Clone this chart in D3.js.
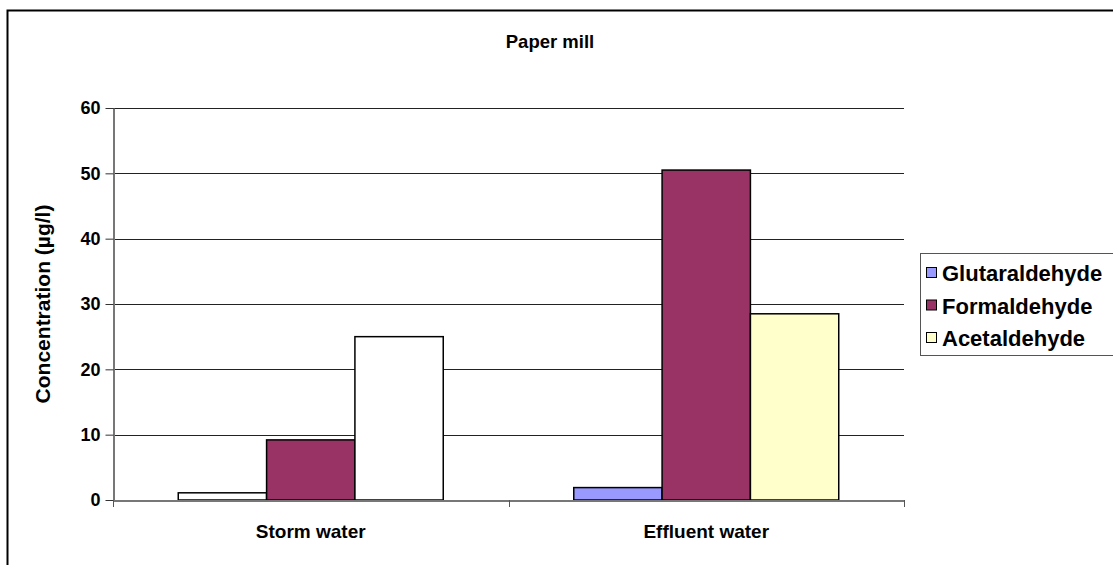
<!DOCTYPE html>
<html>
<head>
<meta charset="utf-8">
<script src="https://cdn.jsdelivr.net/npm/d3@7"></script>
<style>
  html, body { margin: 0; padding: 0; background: #fff; }
  svg { display: block; font-family: "Liberation Sans", Arial, sans-serif; }
</style>
</head>
<body>
<svg id="chart" width="1113" height="565"></svg>
<script>
// Sampling sites and measured aldehydes
const categories = ["Storm water", "Effluent water"];
const seriesNames = ["Glutaraldehyde", "Formaldehyde", "Acetaldehyde"];
const glutaraldehyde = [1.1, 1.9];
const formaldehyde = [9.2, 50.5];
const acetaldehyde = [25.0, 28.5];
const yTicks = [0, 10, 20, 30, 40, 50, 60];

const seriesValues = [glutaraldehyde, formaldehyde, acetaldehyde];
const seriesColors = ["#9999FF", "#993366", "#FFFFCC"];
// Storm water glutaraldehyde and acetaldehyde bars are drawn unfilled
const pointFill = (si, ci) => (ci === 0 && si !== 1) ? "#FFFFFF" : seriesColors[si];

const FONT = "Liberation Sans, Arial, sans-serif";
const svg = d3.select("#chart");
const plot = { left: 113, right: 904, top: 108, bottom: 500 };

// outer chart frame (runs past the right and bottom edges)
svg.append("rect")
  .attr("x", 7.5).attr("y", 10.5)
  .attr("width", 1200).attr("height", 600)
  .attr("fill", "#fff").attr("stroke", "#000").attr("stroke-width", 2);

const x = d3.scaleBand().domain(categories).range([plot.left, plot.right]);
const groupPad = 0.165;
const x1 = d3.scaleBand().domain(seriesNames)
  .range([x.bandwidth() * groupPad, x.bandwidth() * (1 - groupPad)]);
const y = d3.scaleLinear().domain([0, 60]).range([plot.bottom, plot.top]);

// horizontal gridlines
svg.append("g").selectAll("line").data(yTicks.filter(t => t > 0)).join("line")
  .attr("x1", plot.left).attr("x2", plot.right)
  .attr("y1", d => Math.round(y(d)) + 0.5).attr("y2", d => Math.round(y(d)) + 0.5)
  .attr("stroke", "#222").attr("stroke-width", 1);

// bars
const groups = svg.append("g").selectAll("g").data(categories).join("g")
  .attr("transform", c => `translate(${x(c)},0)`);
groups.selectAll("rect")
  .data((c, ci) => seriesNames.map((s, si) => ({ s, si, ci, v: seriesValues[si][ci] })))
  .join("rect")
  .attr("x", d => x1(d.s))
  .attr("width", x1.bandwidth())
  .attr("y", d => y(d.v))
  .attr("height", d => y(0) - y(d.v))
  .attr("fill", d => pointFill(d.si, d.ci))
  .attr("stroke", "#000").attr("stroke-width", 1.5);

// y axis
const yAxis = svg.append("g")
  .attr("transform", `translate(${plot.left + 0.5},0)`)
  .call(d3.axisLeft(y).tickValues(yTicks).tickSize(8).tickSizeOuter(0).tickPadding(5));
yAxis.select(".domain").attr("stroke", "#777").attr("stroke-width", 2);
yAxis.selectAll(".tick line").attr("stroke", "#333");
yAxis.selectAll(".tick text")
  .attr("font-size", 18).attr("font-weight", "bold").attr("fill", "#000")
  .attr("font-family", FONT);

// x axis
const xAxis = svg.append("g")
  .attr("transform", `translate(0,${plot.bottom + 0.5})`)
  .call(d3.axisBottom(x).tickSize(0).tickSizeOuter(0).tickPadding(24));
xAxis.select(".domain").attr("stroke", "#777").attr("stroke-width", 2);
xAxis.selectAll(".tick text")
  .attr("font-size", 19).attr("font-weight", "bold").attr("fill", "#000")
  .attr("font-family", FONT);
// category boundary ticks
svg.append("g").selectAll("line")
  .data([plot.left, (plot.left + plot.right) / 2, plot.right]).join("line")
  .attr("x1", d => Math.round(d) + 0.5).attr("x2", d => Math.round(d) + 0.5)
  .attr("y1", plot.bottom).attr("y2", plot.bottom + 7)
  .attr("stroke", "#555");

// title
svg.append("text")
  .attr("x", 550).attr("y", 48)
  .attr("text-anchor", "middle")
  .attr("font-size", 18.5).attr("font-weight", "bold")
  .text("Paper mill");

// y axis title
svg.append("text")
  .attr("transform", `translate(50,${(plot.top + plot.bottom) / 2}) rotate(-90)`)
  .attr("text-anchor", "middle")
  .attr("font-size", 21).attr("font-weight", "bold")
  .text("Concentration (µg/l)");

// legend
const legend = svg.append("g");
legend.append("rect")
  .attr("x", 920.5).attr("y", 253.5).attr("width", 240).attr("height", 102)
  .attr("fill", "#fff").attr("stroke", "#555").attr("stroke-width", 1);
const items = legend.selectAll("g.item").data(seriesNames).join("g")
  .attr("class", "item")
  .attr("transform", (d, i) => `translate(926,${273 + i * 32.5})`);
items.append("rect")
  .attr("x", 0.5).attr("y", -5.5).attr("width", 10).attr("height", 10)
  .attr("fill", (d, i) => seriesColors[i]).attr("stroke", "#000");
items.append("text")
  .attr("x", 16).attr("y", 8)
  .attr("font-size", 22).attr("font-weight", "bold")
  .text(d => d);
</script>
</body>
</html>
